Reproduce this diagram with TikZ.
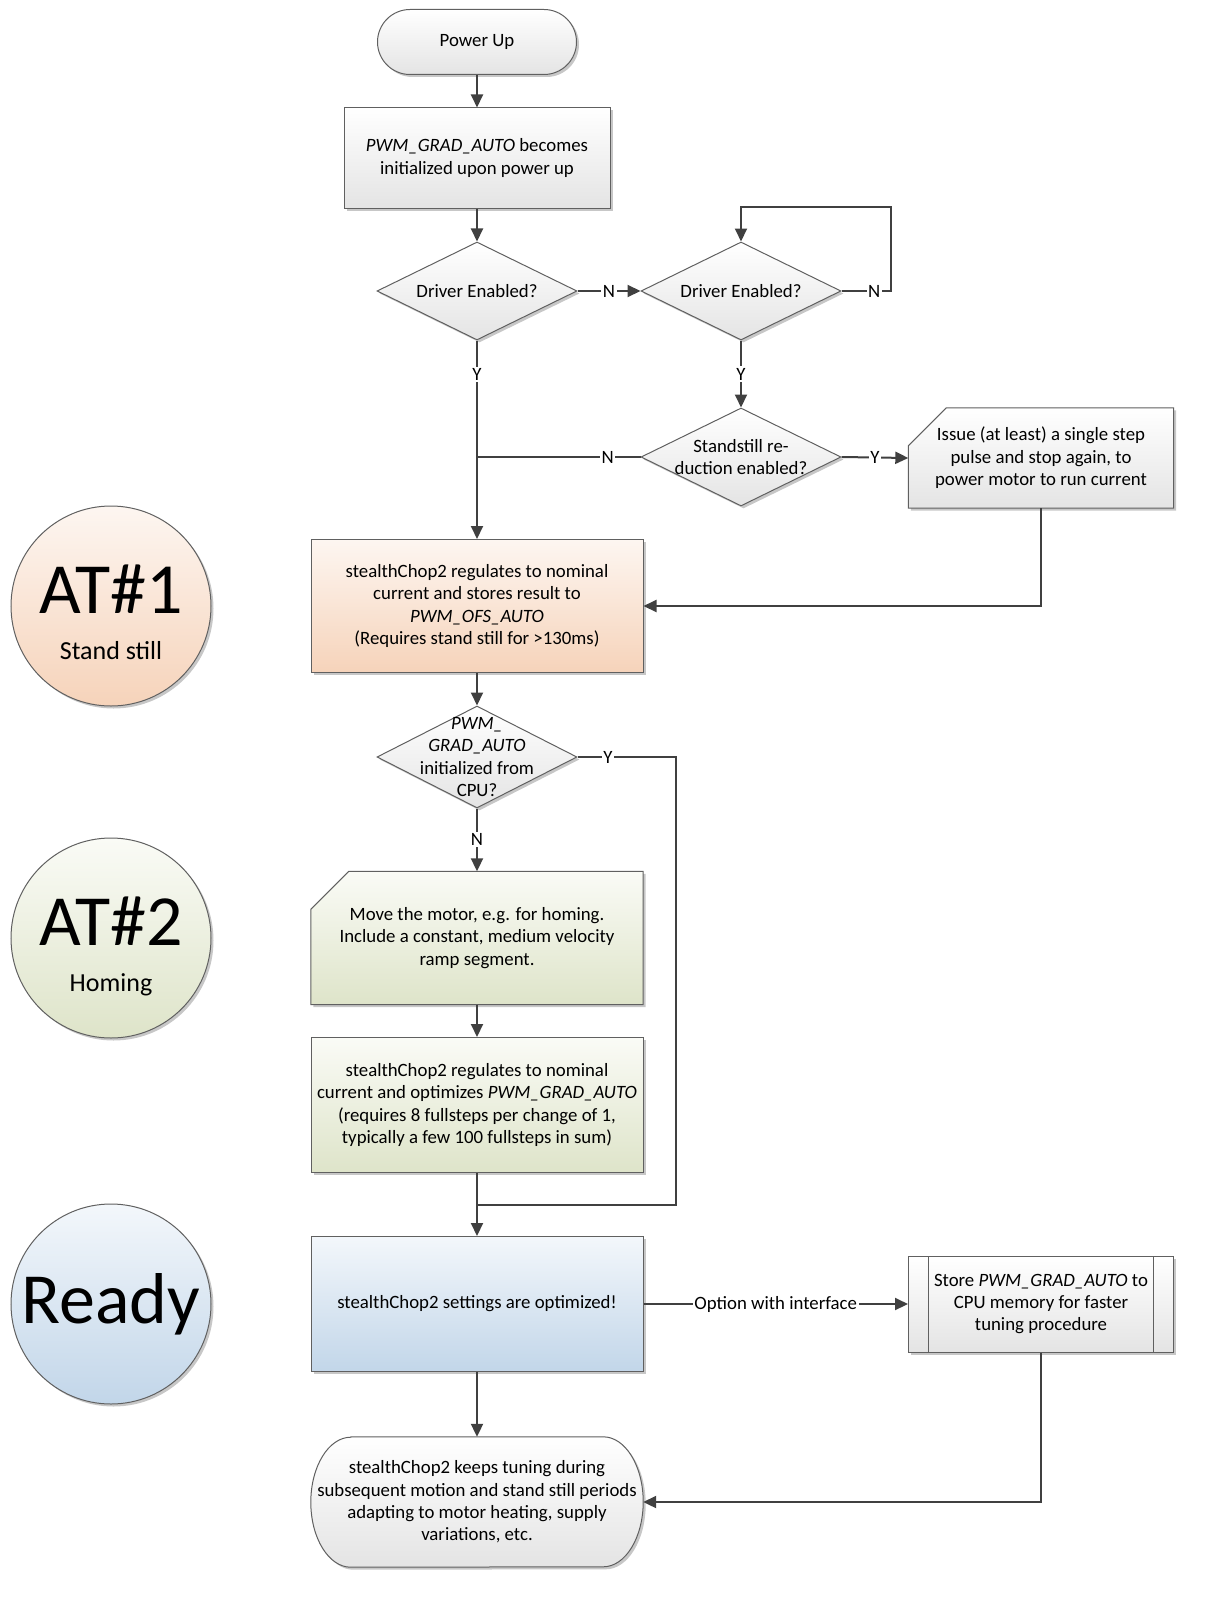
\documentclass[tikz,border=0pt]{standalone}
\usepackage{fontspec}
\setmainfont{Carlito}
\usetikzlibrary{shapes.geometric,shapes.misc,arrows.meta,shadows,backgrounds}
\definecolor{lncol}{HTML}{404040}
\definecolor{bdcol}{HTML}{606060}
\definecolor{graybot}{HTML}{E4E4E4}
\definecolor{peachtop}{HTML}{FDF6F1}
\definecolor{peachbot}{HTML}{F6D3BA}
\definecolor{greentop}{HTML}{FAFBF6}
\definecolor{greenbot}{HTML}{DEE4C9}
\definecolor{bluetop}{HTML}{F3F7FB}
\definecolor{bluebot}{HTML}{C2D6E9}
\newcommand\flowfont{\fontsize{18.8}{22.4}\selectfont}
\tikzset{
  shd/.style={drop shadow={shadow xshift=2.5pt,shadow yshift=-2.5pt,opacity=.22,fill=black}},
  grayfill/.style={top color=white,bottom color=graybot},
  peachfill/.style={top color=peachtop,bottom color=peachbot},
  greenfill/.style={top color=greentop,bottom color=greenbot},
  bluefill/.style={top color=bluetop,bottom color=bluebot},
  box/.style={rectangle,draw=bdcol,line width=1pt,inner sep=0pt,align=center,font=\flowfont,shd},
  manual/.style={rectangle,inner sep=0pt,align=center,font=\flowfont},
  edge/.style={draw=bdcol,line width=1pt,shd},
  sub/.style={box,grayfill,path picture={
    \draw[bdcol,line width=1pt] ([xshift=20pt]path picture bounding box.north west) -- ([xshift=20pt]path picture bounding box.south west)
      ([xshift=-20pt]path picture bounding box.north east) -- ([xshift=-20pt]path picture bounding box.south east);}},
  decision/.style={diamond,draw=bdcol,line width=1pt,inner sep=0pt,minimum width=200pt,minimum height=98pt,grayfill,shd},
  term/.style={rounded rectangle,draw=bdcol,line width=1pt,inner sep=0pt,grayfill,shd},
  inside/.style={align=center,font=\flowfont},
  phase/.style={circle,draw=bdcol,line width=1pt,minimum size=200pt,inner sep=0pt,shd},
  bigtxt/.style={font=\fontsize{72}{72}\selectfont,text height=46pt,text depth=0pt,yshift=16pt},
  subtxt/.style={font=\fontsize{26}{26}\selectfont,text height=17pt,text depth=5pt,yshift=-47pt},
  line/.style={draw=lncol,line width=2pt},
  flow/.style={line,-{Triangle[length=13pt,width=12pt]}},
  lbl/.style={fill=white,inner sep=1.5pt,font=\flowfont}
}
\begin{document}
\begin{tikzpicture}[x=1pt,y=-1pt]
\useasboundingbox (0,0) rectangle (1210,1616);

\node[term,minimum width=199pt,minimum height=65pt,label={[inside]center:Power Up}] (pwr) at (477,42) {};
\node[box,grayfill,minimum width=266pt,minimum height=100pt] (init) at (477,158) {\textit{PWM\_GRAD\_AUTO} becomes\\initialized upon power up};
\node[decision,label={[inside]center:Driver Enabled?}] (en1) at (477,291) {};
\node[decision,label={[inside]center:Driver Enabled?}] (en2) at (741,291) {};
\node[decision,label={[inside]center:{Standstill re-\\duction enabled?}}] (red) at (741,457) {};
\node[manual,minimum width=265pt,minimum height=100pt] (pulse) at (1041,458) {Issue (at least) a single step\\pulse and stop again, to\\power motor to run current};
\node[box,peachfill,minimum width=332pt,minimum height=133pt] (ofs) at (477,606) {stealthChop2 regulates to nominal\\current and stores result to\\\textit{PWM\_OFS\_AUTO}\\(Requires stand still for >130ms)};
\node[decision,minimum height=102pt,label={[inside]center:{\textit{PWM\_}\\\textit{GRAD\_AUTO}\\initialized from\\CPU?}}] (cpu) at (477,757) {};
\node[manual,minimum width=332pt,minimum height=133pt] (move) at (477,938) {Move the motor, e.g. for homing.\\Include a constant, medium velocity\\ramp segment.};
\node[box,greenfill,minimum width=332pt,minimum height=135pt] (grad) at (477,1105) {stealthChop2 regulates to nominal\\current and optimizes \textit{PWM\_GRAD\_AUTO}\\(requires 8 fullsteps per change of 1,\\typically a few 100 fullsteps in sum)};
\node[box,bluefill,minimum width=332pt,minimum height=135pt] (ready) at (477,1304) {stealthChop2 settings are optimized!};
\node[sub,minimum width=265pt,minimum height=96pt] (store) at (1041,1304) {Store \textit{PWM\_GRAD\_AUTO} to\\CPU memory for faster\\tuning procedure};
\node[manual,minimum width=332pt,minimum height=130pt] (keep) at (477,1502) {stealthChop2 keeps tuning during\\subsequent motion and stand still periods\\adapting to motor heating, supply\\variations, etc.};

\node[phase,peachfill,label={[bigtxt]center:AT\#1},label={[subtxt]center:Stand still}] (at1) at (111,606) {};
\node[phase,greenfill,label={[bigtxt]center:AT\#2},label={[subtxt]center:Homing}] (at2) at (111,938) {};
\node[phase,bluefill,font=\fontsize{72}{72}\selectfont] (rdy) at (111,1304) {Ready};

\begin{scope}[on background layer]
\draw[edge,grayfill] (pulse.south west) -- ([yshift=-38pt]pulse.north west) -- ([xshift=38pt]pulse.north west) -- (pulse.north east) -- (pulse.south east) -- cycle;
\draw[edge,greenfill] (move.south west) -- ([yshift=-38pt]move.north west) -- ([xshift=38pt]move.north west) -- (move.north east) -- (move.south east) -- cycle;
\draw[edge,grayfill] ([xshift=40pt]keep.north west) -- ([xshift=-40pt]keep.north east) arc[start angle=90,end angle=-90,x radius=40pt,y radius=65pt]
  -- ([xshift=40pt]keep.south west) arc[start angle=270,end angle=90,x radius=40pt,y radius=65pt] -- cycle;
\end{scope}

\coordinate (loop) at (891,207);
\coordinate (bypass) at (676,1205);
\coordinate (join) at (477,1205);

\draw[flow] (pwr) -- (init);
\draw[flow] (init) -- (en1);
\draw[flow] (en1.east) -- node[lbl]{N} (en2.west);
\draw[flow] (en2.east) -| node[lbl,pos=.33]{N} (loop) -| (en2.north);
\draw[flow] (en2.south) -- node[lbl]{Y} (red.north);
\draw[flow] (en1.south) -- node[lbl,pos=.17]{Y} (ofs.north);
\draw[line] (red.west) -- node[lbl,pos=.2]{N} (red.west -| en1.south);
\draw[flow] (red.east) -- node[lbl]{Y} (pulse.west);
\draw[flow] (pulse.south) |- (ofs.east);
\draw[flow] (ofs.south) -- (cpu.north);
\draw[line] (cpu.east) -| node[lbl,pos=.155]{Y} (bypass) -- (join);
\draw[flow] (cpu.south) -- node[lbl]{N} (move.north);
\draw[flow] (move.south) -- (grad.north);
\draw[flow] (grad.south) -- (ready.north);
\draw[flow] (ready.east) -- node[lbl]{Option with interface} (store.west);
\draw[flow] (ready.south) -- (keep.north);
\draw[flow] (store.south) |- (keep.east);
\end{tikzpicture}
\end{document}
